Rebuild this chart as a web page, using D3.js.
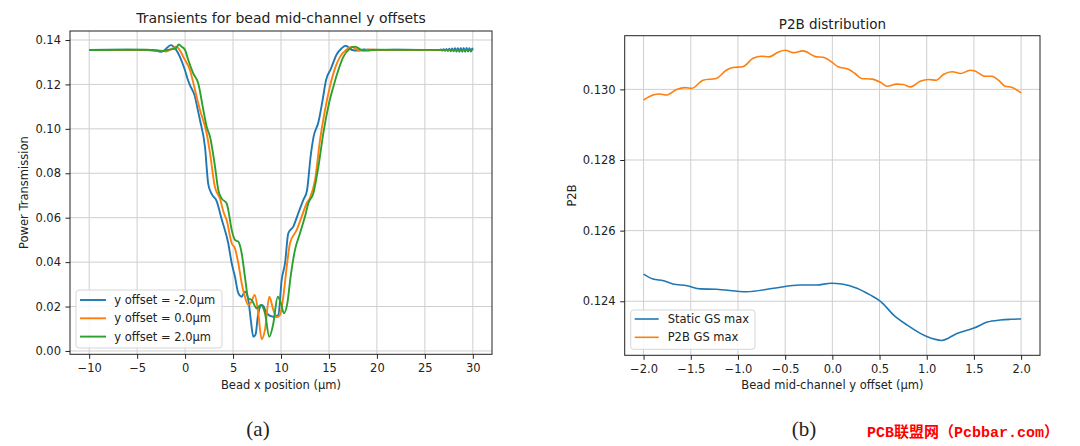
<!DOCTYPE html>
<html>
<head>
<meta charset="utf-8">
<script src="https://cdn.jsdelivr.net/npm/d3@7"></script>
<style>
  html, body { margin: 0; padding: 0; background: #ffffff; }
  svg { display: block; }
  text { font-family: "DejaVu Sans", sans-serif; fill: #222; }
</style>
</head>
<body>
<script>
// ---------------- DATA ----------------
// Panel (a): transients, [x (µm), power transmission]
const seriesLabelsA = ["y offset = -2.0\u03bcm", "y offset = 0.0\u03bcm", "y offset = 2.0\u03bcm"];
const offsetNeg2 = [
  [-10,0.1355],[-6,0.1356],[-4,0.1355],[-3,0.1352],[-2.6,0.1347],[-2.2,0.1352],[-1.8,0.1368],[-1.5,0.1377],
  [-1.0,0.1360],[-0.54,0.1324],[-0.02,0.1265],[0.3,0.1220],[0.5,0.1197],[1.03,0.1145],[1.3,0.109],[1.55,0.104],
  [2.07,0.092],[2.42,0.075],[2.8,0.0705],[3.29,0.0675],[3.8,0.0595],[4.5,0.0485],[4.86,0.0395],[5.2,0.0334],
  [5.55,0.026],[5.9,0.0244],[6.24,0.0267],[6.59,0.023],[6.85,0.014],[7.11,0.0064],[7.35,0.0075],[7.6,0.016],
  [7.98,0.0207],[8.2,0.0200],[8.5,0.017],[9.2,0.0154],[9.72,0.0162],[10.07,0.032],[10.42,0.0395],[10.76,0.053],
  [11.28,0.056],[11.8,0.062],[12.33,0.068],[12.7,0.072],[13.1,0.088],[13.4,0.0965],[13.9,0.103],[14.3,0.112],
  [14.7,0.122],[15.2,0.127],[15.8,0.1335],[16.3,0.1362],[16.75,0.1374],[17.1,0.1365],[17.4,0.1355],[18.0,0.1352],
  [18.6,0.1357],[19.5,0.1355],[22,0.1356],[26.5,0.1355],
  [26.65,0.1358],[26.8,0.1352],[26.95,0.1359],[27.1,0.1351],[27.25,0.1360],[27.4,0.1350],[27.55,0.1361],
  [27.7,0.1349],[27.85,0.1362],[28.0,0.1349],[28.15,0.1363],[28.3,0.1348],[28.45,0.1363],[28.6,0.1347],
  [28.75,0.1364],[28.9,0.1347],[29.05,0.1364],[29.2,0.1347],[29.35,0.1364],[29.5,0.1348],[29.65,0.1363],
  [29.8,0.1348],[29.95,0.1362],[30,0.1356]
];
const offset0 = [
  [-10,0.1355],[-4,0.1355],[-2.5,0.1352],[-2.0,0.1348],[-1.6,0.1355],[-1.2,0.1365],[-0.95,0.1370],[-0.6,0.1358],
  [-0.19,0.1324],[0.5,0.1265],[1.2,0.1145],[1.55,0.1085],[2.25,0.098],[2.6,0.089],[3.1,0.074],[3.63,0.0687],
  [4.05,0.062],[4.33,0.059],[4.86,0.0485],[5.2,0.0462],[5.55,0.0395],[5.9,0.0305],[6.24,0.0244],[6.59,0.0207],
  [6.9,0.0220],[7.26,0.0252],[7.63,0.017],[7.98,0.0053],[8.33,0.0095],[8.78,0.0244],[9.2,0.0185],[9.55,0.0152],
  [9.9,0.0162],[10.24,0.0244],[10.6,0.038],[10.94,0.0485],[11.64,0.0545],[12.16,0.0605],[12.68,0.0665],
  [13.03,0.069],[13.55,0.077],[14.07,0.095],[14.59,0.1085],[15.1,0.119],[15.63,0.1272],[16.15,0.1324],
  [16.85,0.1357],[17.38,0.137],[17.9,0.1357],[18.5,0.1352],[19.2,0.1357],[20,0.1355],[30,0.1355]
];
const offsetPos2 = [
  [-10,0.1355],[-4,0.1356],[-2.8,0.1352],[-2.4,0.1350],[-2.0,0.1354],[-1.5,0.1358],[-1.0,0.1362],[-0.64,0.1380],
  [-0.36,0.1370],[0,0.1355],[0.33,0.131],[0.85,0.125],[1.37,0.1205],[1.9,0.1085],[2.25,0.101],[2.6,0.0964],
  [3.12,0.083],[3.46,0.0725],[3.81,0.0687],[4.33,0.0665],[4.5,0.0635],[4.86,0.0545],[5.2,0.050],[5.55,0.0492],
  [5.9,0.044],[6.24,0.0334],[6.59,0.0237],[6.94,0.023],[7.46,0.0192],[7.9,0.0207],[8.33,0.017],[8.78,0.0064],
  [9.2,0.0124],[9.66,0.0244],[10.0,0.0214],[10.3,0.017],[10.66,0.0214],[11.0,0.0334],[11.46,0.0455],
  [11.98,0.053],[12.5,0.0605],[12.85,0.0665],[13.37,0.071],[13.9,0.083],[14.41,0.098],[14.93,0.11],
  [15.46,0.119],[15.98,0.1265],[16.5,0.1324],[17.2,0.1362],[17.72,0.137],[18.4,0.1355],[19.0,0.1352],
  [19.6,0.1356],[30,0.1355]
];
const xTicksA = [-10, -5, 0, 5, 10, 15, 20, 25, 30];
const yTicksA = [0.00, 0.02, 0.04, 0.06, 0.08, 0.10, 0.12, 0.14];

// Panel (b): P2B vs mid-channel y offset, [y offset (µm), P2B]
const seriesLabelsB = ["Static GS max", "P2B GS max"];
const staticGSmax = [
  [-2.0,0.12477],[-1.9,0.12463],[-1.79,0.12458],[-1.69,0.12449],[-1.54,0.12444],[-1.40,0.12435],[-1.23,0.12434],
  [-0.91,0.12427],[-0.62,0.12437],[-0.34,0.12446],[-0.17,0.12446],[-0.01,0.12451],[0.10,0.12449],[0.26,0.12437],
  [0.40,0.12418],[0.51,0.12400],[0.65,0.12361],[0.79,0.12333],[1.0,0.12300],[1.16,0.12289],[1.32,0.12309],
  [1.50,0.12324],[1.64,0.12341],[1.78,0.12347],[1.89,0.12349],[2.0,0.12350]
];
const p2bGSmax = [
  [-2.0,0.12970],[-1.9,0.12984],[-1.83,0.12987],[-1.76,0.12984],[-1.65,0.13000],[-1.56,0.13005],[-1.49,0.13003],
  [-1.37,0.13026],[-1.23,0.13031],[-1.12,0.13055],[-1.05,0.13062],[-0.95,0.13064],[-0.84,0.13088],[-0.75,0.13094],
  [-0.67,0.13092],[-0.57,0.13106],[-0.50,0.13111],[-0.41,0.13104],[-0.31,0.13109],[-0.17,0.13092],[-0.10,0.13091],
  [-0.01,0.13078],[0.06,0.13064],[0.17,0.13057],[0.24,0.13045],[0.31,0.13031],[0.42,0.13029],[0.51,0.13020],
  [0.58,0.13009],[0.68,0.13015],[0.75,0.13014],[0.83,0.13007],[0.93,0.13023],[1.02,0.13028],[1.10,0.13026],
  [1.18,0.13043],[1.27,0.13050],[1.36,0.13045],[1.46,0.13054],[1.51,0.13052],[1.62,0.13037],[1.69,0.13037],
  [1.76,0.13026],[1.83,0.13009],[1.90,0.13006],[2.0,0.12990]
];
const xTicksB = [-2.0, -1.5, -1.0, -0.5, 0.0, 0.5, 1.0, 1.5, 2.0];
const yTicksB = [0.124, 0.126, 0.128, 0.130];

const colors = ["#1f77b4", "#ff7f0e", "#2ca02c"];

// ---------------- DRAWING ----------------
const W = 1080, H = 446;
const svg = d3.select("body").append("svg").attr("width", W).attr("height", H);
svg.append("rect").attr("width", W).attr("height", H).attr("fill", "#fff");

function drawPanel(cfg) {
  const g = svg.append("g");
  const x = d3.scaleLinear().domain(cfg.xDomain).range([cfg.left, cfg.right]);
  const y = d3.scaleLinear().domain(cfg.yDomain).range([cfg.bottom, cfg.top]);

  // grid
  g.append("g").selectAll("line").data(cfg.xTicks).join("line")
    .attr("x1", d => x(d)).attr("x2", d => x(d)).attr("y1", cfg.top).attr("y2", cfg.bottom)
    .attr("stroke", "#cfcfcf").attr("stroke-width", 1);
  g.append("g").selectAll("line").data(cfg.yTicks).join("line")
    .attr("y1", d => y(d)).attr("y2", d => y(d)).attr("x1", cfg.left).attr("x2", cfg.right)
    .attr("stroke", "#cfcfcf").attr("stroke-width", 1);

  // lines
  const line = d3.line().x(d => x(d[0])).y(d => y(d[1])).curve(d3.curveMonotoneX);
  const clipId = "clip" + cfg.id;
  svg.append("clipPath").attr("id", clipId).append("rect")
    .attr("x", cfg.left).attr("y", cfg.top).attr("width", cfg.right - cfg.left).attr("height", cfg.bottom - cfg.top);
  cfg.series.forEach((s, i) => {
    g.append("path").datum(s).attr("d", line).attr("fill", "none")
      .attr("stroke", colors[i]).attr("stroke-width", cfg.lw).attr("stroke-linejoin", "round")
      .attr("clip-path", `url(#${clipId})`);
  });

  // axes
  const xAxis = d3.axisBottom(x).tickValues(cfg.xTicks).tickFormat(d3.format(cfg.xFmt)).tickSize(4.5).tickPadding(5.5);
  const yAxis = d3.axisLeft(y).tickValues(cfg.yTicks).tickFormat(d3.format(cfg.yFmt)).tickSize(4.5).tickPadding(4.5);
  const gx = g.append("g").attr("transform", `translate(0,${cfg.bottom})`).call(xAxis);
  const gy = g.append("g").attr("transform", `translate(${cfg.left},0)`).call(yAxis);
  [gx, gy].forEach(a => {
    a.select(".domain").remove();
    a.selectAll(".tick line").attr("stroke", "#222").attr("stroke-width", 1);
    a.selectAll(".tick text").attr("fill", "#222").style("font-size", "11.5px")
      .style("font-family", "'DejaVu Sans', sans-serif");
  });

  // frame
  g.append("rect").attr("x", cfg.left).attr("y", cfg.top)
    .attr("width", cfg.right - cfg.left).attr("height", cfg.bottom - cfg.top)
    .attr("fill", "none").attr("stroke", "#222").attr("stroke-width", 1);

  // title & labels
  const cx = (cfg.left + cfg.right) / 2;
  g.append("text").attr("x", cx).attr("y", cfg.titleY).attr("text-anchor", "middle")
    .style("font-size", cfg.titleSize + "px").text(cfg.title);
  g.append("text").attr("x", cx).attr("y", 389).attr("text-anchor", "middle")
    .style("font-size", "11.5px").text(cfg.xLabel);
  g.append("text").attr("transform", `translate(${cfg.yLabelX},${(cfg.top + cfg.bottom) / 2}) rotate(-90)`)
    .attr("text-anchor", "middle").style("font-size", "11.5px").text(cfg.yLabel);

  // legend
  const L = cfg.legend;
  const lg = g.append("g");
  lg.append("rect").attr("x", L.x).attr("y", L.y).attr("width", L.w).attr("height", L.h)
    .attr("rx", 3).attr("fill", "#fff").attr("fill-opacity", 0.85)
    .attr("stroke", "#d6d6d6").attr("stroke-width", 1);
  cfg.labels.forEach((lab, i) => {
    const ry = L.y + L.first + i * L.step;
    lg.append("line").attr("x1", L.x + 4).attr("x2", L.x + 4 + L.lineLen).attr("y1", ry).attr("y2", ry)
      .attr("stroke", colors[i]).attr("stroke-width", cfg.lw);
    lg.append("text").attr("x", L.x + L.textDx).attr("y", ry).attr("dy", "0.36em")
      .style("font-size", "11.5px").text(lab);
  });
}

drawPanel({
  id: "a", left: 70, right: 492, top: 31, bottom: 354.3,
  xDomain: [-12, 32], yDomain: [-0.0015, 0.14405],
  xTicks: xTicksA, yTicks: yTicksA, xFmt: "d", yFmt: ".2f",
  series: [offsetNeg2, offset0, offsetPos2], labels: seriesLabelsA, lw: 1.9,
  title: "Transients for bead mid-channel y offsets", titleSize: 14, titleY: 22.5,
  xLabel: "Bead x position (\u03bcm)", yLabel: "Power Transmission", yLabelX: 28,
  legend: { x: 76, y: 290, w: 146, h: 58, first: 10, step: 18.3, lineLen: 26, textDx: 38.3 }
});

drawPanel({
  id: "b", left: 624.7, right: 1040, top: 35.7, bottom: 355.3,
  xDomain: [-2.2, 2.2], yDomain: [0.12247, 0.13152],
  xTicks: xTicksB, yTicks: yTicksB, xFmt: ".1f", yFmt: ".3f",
  series: [staticGSmax, p2bGSmax], labels: seriesLabelsB, lw: 1.6,
  title: "P2B distribution", titleSize: 13.5, titleY: 28.5,
  xLabel: "Bead mid-channel y offset (\u03bcm)", yLabel: "P2B", yLabelX: 575.7,
  legend: { x: 630.7, y: 310, w: 124.3, h: 39.3, first: 9, step: 18.3, lineLen: 24, textDx: 37 }
});

// captions
svg.append("text").attr("x", 258).attr("y", 436).attr("text-anchor", "middle")
  .style("font-family", "'Liberation Serif', 'Times New Roman', serif").style("font-size", "21px")
  .attr("fill", "#111").text("(a)");
svg.append("text").attr("x", 804).attr("y", 436).attr("text-anchor", "middle")
  .style("font-family", "'Liberation Serif', 'Times New Roman', serif").style("font-size", "21px")
  .attr("fill", "#111").text("(b)");

// watermark
svg.append("text").attr("x", 867).attr("y", 437)
  .style("font-family", "'Liberation Mono', 'Noto Sans CJK SC', monospace").style("font-size", "15px")
  .style("font-weight", "bold").attr("fill", "#ff0000").style("fill", "#ff0000")
  .text("PCB\u8054\u76df\u7f51\uff08Pcbbar.com\uff09");
</script>
</body>
</html>
